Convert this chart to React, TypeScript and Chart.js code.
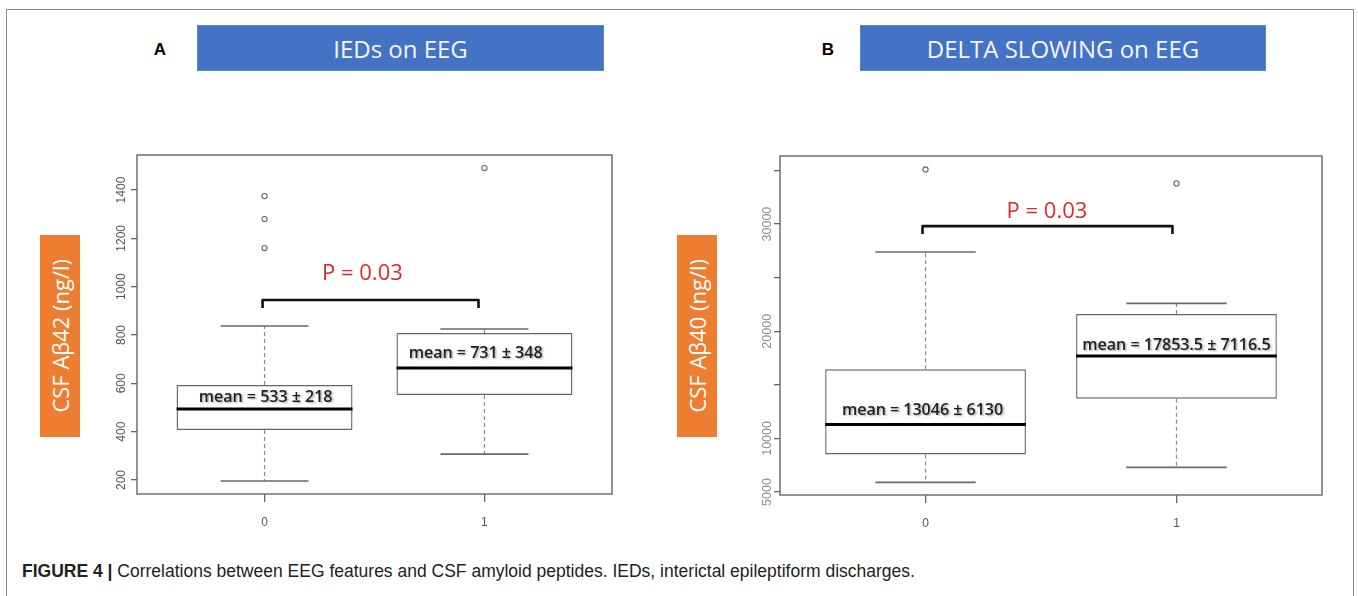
import React, { useEffect, useRef } from "react";
import { Chart, registerables } from "chart.js";

Chart.register(...registerables);

// ---------- Panel A: CSF Aβ42 by IEDs on EEG ----------
const groupsA = [0, 1];
const groupLabelsA = ["0", "1"];
const q1A = [407, 552];
const medianA = [494, 663];
const q3A = [593, 808];
const whiskerLowA = [196, 307];
const whiskerHighA = [837, 825];
const outlierGroupA = [0, 0, 0, 1];
const outlierValueA = [1375, 1280, 1160, 1491];
const meanTextA = ["mean = 533 ± 218", "mean = 731 ± 348"];
const yTicksA = [200, 400, 600, 800, 1000, 1200, 1400];
const yTickLabelsA = ["200", "400", "600", "800", "1000", "1200", "1400"];
const pTextA = "P = 0.03";

// ---------- Panel B: CSF Aβ40 by delta slowing on EEG ----------
const groupsB = [0, 1];
const groupLabelsB = ["0", "1"];
const q1B = [8500, 13700];
const medianB = [11300, 17700];
const q3B = [16450, 21600];
const whiskerLowB = [5900, 7300];
const whiskerHighB = [27400, 22600];
const outlierGroupB = [0, 1];
const outlierValueB = [35100, 33800];
const meanTextB = ["mean = 13046 ± 6130", "mean = 17853.5 ± 7116.5"];
const yTicksB = [5000, 10000, 15000, 20000, 25000, 30000, 35000];
const yTickLabelsB = ["5000", "10000", "", "20000", "", "30000", ""];
const pTextB = "P = 0.03";

type PanelCfg = {
  left: number;
  top: number;
  width: number;
  height: number;
  yWidth: number;
  xHeight: number;
  padTop: number;
  padRight: number;
  yMin: number;
  yMax: number;
  groups: number[];
  groupLabels: string[];
  q1: number[];
  median: number[];
  q3: number[];
  wLow: number[];
  wHigh: number[];
  outGroup: number[];
  outValue: number[];
  meanText: string[];
  meanAt: { x: number; y: number }[];
  yTicks: number[];
  yTickLabels: string[];
  yLabelOffset: number;
  yLabelFont: number;
  yLabelColor: string;
  pText: string;
  pAt: { x: number; y: number };
  bracket: { x0: number; x1: number; yTop: number; yBottom: number };
};

const panelA: PanelCfg = {
  left: 90,
  top: 140,
  width: 540,
  height: 400,
  yWidth: 47,
  xHeight: 46,
  padTop: 15,
  padRight: 18,
  yMin: 142,
  yMax: 1545,
  groups: groupsA,
  groupLabels: groupLabelsA,
  q1: q1A,
  median: medianA,
  q3: q3A,
  wLow: whiskerLowA,
  wHigh: whiskerHighA,
  outGroup: outlierGroupA,
  outValue: outlierValueA,
  meanText: meanTextA,
  meanAt: [
    { x: 0.005, y: 543 },
    { x: 0.96, y: 725 },
  ],
  yTicks: yTicksA,
  yTickLabels: yTickLabelsA,
  yLabelOffset: 15,
  yLabelFont: 12,
  yLabelColor: "#555",
  pText: pTextA,
  pAt: { x: 0.445, y: 1052 },
  bracket: { x0: -0.009, x1: 0.973, yTop: 945, yBottom: 912 },
};

const panelB: PanelCfg = {
  left: 730,
  top: 140,
  width: 610,
  height: 400,
  yWidth: 50,
  xHeight: 45,
  padTop: 16,
  padRight: 18,
  yMin: 4720,
  yMax: 36355,
  groups: groupsB,
  groupLabels: groupLabelsB,
  q1: q1B,
  median: medianB,
  q3: q3B,
  wLow: whiskerLowB,
  wHigh: whiskerHighB,
  outGroup: outlierGroupB,
  outValue: outlierValueB,
  meanText: meanTextB,
  meanAt: [
    { x: -0.012, y: 12617 },
    { x: 1.0, y: 18692 },
  ],
  yTicks: yTicksB,
  yTickLabels: yTickLabelsB,
  yLabelOffset: 12,
  yLabelFont: 12.5,
  yLabelColor: "#8a8a8a",
  pText: pTextB,
  pAt: { x: 0.484, y: 31120 },
  bracket: { x0: -0.012, x1: 0.984, yTop: 29813, yBottom: 29065 },
};

const X_MIN = -0.58;
const X_MAX = 1.58;
const BOX_HALF = 0.4;
const CAP_HALF = 0.2;

function BoxPanel({ cfg }: { cfg: PanelCfg }) {
  const ref = useRef<HTMLCanvasElement | null>(null);
  useEffect(() => {
    if (!ref.current) return;
    const extras = {
      id: "boxExtras",
      afterDatasetsDraw(chart: any) {
        const ctx = chart.ctx;
        const xs = chart.scales.x;
        const ys = chart.scales.y;
        const a = chart.chartArea;
        ctx.save();
        // whiskers, caps, medians
        cfg.groups.forEach((g, i) => {
          const cx = xs.getPixelForValue(g);
          const capL = xs.getPixelForValue(g - CAP_HALF);
          const capR = xs.getPixelForValue(g + CAP_HALF);
          const bL = xs.getPixelForValue(g - BOX_HALF);
          const bR = xs.getPixelForValue(g + BOX_HALF);
          ctx.strokeStyle = "#8a8a8a";
          ctx.lineWidth = 1.2;
          ctx.setLineDash([4, 3]);
          ctx.beginPath();
          ctx.moveTo(cx, ys.getPixelForValue(cfg.q3[i]));
          ctx.lineTo(cx, ys.getPixelForValue(cfg.wHigh[i]));
          ctx.moveTo(cx, ys.getPixelForValue(cfg.q1[i]));
          ctx.lineTo(cx, ys.getPixelForValue(cfg.wLow[i]));
          ctx.stroke();
          ctx.setLineDash([]);
          ctx.strokeStyle = "#6a6a6a";
          ctx.lineWidth = 1.6;
          ctx.beginPath();
          ctx.moveTo(capL, ys.getPixelForValue(cfg.wHigh[i]));
          ctx.lineTo(capR, ys.getPixelForValue(cfg.wHigh[i]));
          ctx.moveTo(capL, ys.getPixelForValue(cfg.wLow[i]));
          ctx.lineTo(capR, ys.getPixelForValue(cfg.wLow[i]));
          ctx.stroke();
          ctx.strokeStyle = "#000";
          ctx.lineWidth = 3;
          ctx.beginPath();
          ctx.moveTo(bL, ys.getPixelForValue(cfg.median[i]));
          ctx.lineTo(bR, ys.getPixelForValue(cfg.median[i]));
          ctx.stroke();
        });
        // plot frame
        ctx.strokeStyle = "#666";
        ctx.lineWidth = 1.4;
        ctx.strokeRect(a.left, a.top, a.right - a.left, a.bottom - a.top);
        // bracket
        const b = cfg.bracket;
        const bx0 = xs.getPixelForValue(b.x0);
        const bx1 = xs.getPixelForValue(b.x1);
        const byT = ys.getPixelForValue(b.yTop);
        const byB = ys.getPixelForValue(b.yBottom);
        ctx.strokeStyle = "#111";
        ctx.lineWidth = 2.6;
        ctx.lineJoin = "round";
        ctx.beginPath();
        ctx.moveTo(bx0, byB);
        ctx.lineTo(bx0, byT);
        ctx.lineTo(bx1, byT);
        ctx.lineTo(bx1, byB);
        ctx.stroke();
        // P text
        ctx.fillStyle = "#DA2A2E";
        ctx.font = '22px "Open Sans", sans-serif';
        ctx.textAlign = "center";
        ctx.textBaseline = "middle";
        ctx.fillText(cfg.pText, xs.getPixelForValue(cfg.pAt.x), ys.getPixelForValue(cfg.pAt.y));
        // mean texts with soft shadow
        ctx.font = '600 16px "Open Sans", sans-serif';
        cfg.meanText.forEach((t, i) => {
          const px = xs.getPixelForValue(cfg.meanAt[i].x);
          const py = ys.getPixelForValue(cfg.meanAt[i].y);
          ctx.save();
          ctx.shadowColor = "rgba(0,0,0,0.35)";
          ctx.shadowBlur = 2;
          ctx.shadowOffsetX = 1.5;
          ctx.shadowOffsetY = 1.5;
          ctx.fillStyle = "#1e1e1e";
          ctx.fillText(t, px, py);
          ctx.restore();
        });
        // rotated y tick labels
        ctx.fillStyle = cfg.yLabelColor;
        ctx.font = `${cfg.yLabelFont}px "Liberation Sans", Arial, sans-serif`;
        cfg.yTicks.forEach((v, i) => {
          const lab = cfg.yTickLabels[i];
          if (!lab) return;
          ctx.save();
          ctx.translate(a.left - cfg.yLabelOffset, ys.getPixelForValue(v));
          ctx.rotate(-Math.PI / 2);
          ctx.textAlign = "center";
          ctx.textBaseline = "middle";
          ctx.fillText(lab, 0, 0);
          ctx.restore();
        });
        ctx.restore();
      },
    };

    const chart = new Chart(ref.current, {
      type: "bar",
      data: {
        datasets: [
          {
            type: "bar",
            data: cfg.groups.map((g, i) => ({ x: g, y: [cfg.q1[i], cfg.q3[i]] })) as any,
            backgroundColor: "#ffffff",
            borderColor: "#666",
            borderWidth: 1.4,
            borderSkipped: false,
            categoryPercentage: 0.8,
            barPercentage: 1,
            order: 2,
          } as any,
          {
            type: "scatter",
            data: cfg.outGroup.map((g, i) => ({ x: g, y: cfg.outValue[i] })),
            pointStyle: "circle",
            pointRadius: 2.6,
            borderColor: "#666",
            backgroundColor: "rgba(0,0,0,0)",
            borderWidth: 1.1,
            order: 1,
          } as any,
        ],
      },
      options: {
        animation: false,
        responsive: false,
        events: [],
        layout: { padding: { top: cfg.padTop, right: cfg.padRight, left: 0, bottom: 0 } },
        plugins: { legend: { display: false }, tooltip: { enabled: false } },
        scales: {
          x: {
            type: "linear",
            min: X_MIN,
            max: X_MAX,
            offset: false,
            bounds: "data",
            afterBuildTicks: (s: any) => {
              s.ticks = cfg.groups.map((g) => ({ value: g }));
            },
            afterFit: (s: any) => {
              s.height = cfg.xHeight;
            },
            ticks: {
              color: "#555",
              font: { size: 12, family: '"Liberation Sans", Arial, sans-serif' },
              padding: 13,
              callback: (v: any) => {
                const idx = cfg.groups.indexOf(Number(v));
                return idx >= 0 ? cfg.groupLabels[idx] : "";
              },
            },
            grid: {
              display: true,
              offset: false,
              drawOnChartArea: false,
              drawTicks: true,
              tickLength: 8,
              color: "#666",
              lineWidth: 1.3,
            },
            border: { display: false },
          },
          y: {
            type: "linear",
            min: cfg.yMin,
            max: cfg.yMax,
            bounds: "data",
            afterBuildTicks: (s: any) => {
              s.ticks = cfg.yTicks.map((v) => ({ value: v }));
            },
            afterFit: (s: any) => {
              s.width = cfg.yWidth;
            },
            ticks: { display: false },
            grid: {
              display: true,
              drawOnChartArea: false,
              drawTicks: true,
              tickLength: 6,
              color: "#666",
              lineWidth: 1.3,
            },
            border: { display: false },
          },
        },
      } as any,
      plugins: [extras],
    });
    return () => chart.destroy();
  }, [cfg]);
  return (
    <canvas
      ref={ref}
      width={cfg.width}
      height={cfg.height}
      style={{
        position: "absolute",
        left: cfg.left,
        top: cfg.top,
        width: cfg.width,
        height: cfg.height,
      }}
    />
  );
}

const headerStyle: React.CSSProperties = {
  position: "absolute",
  top: 25,
  height: 46,
  background: "#4472C4",
  color: "#f4f6fb",
  fontFamily: '"Open Sans", sans-serif',
  fontSize: 24,
  display: "flex",
  alignItems: "center",
  justifyContent: "center",
  border: "1px solid #5b86d0",
  boxSizing: "border-box",
};

const letterStyle: React.CSSProperties = {
  position: "absolute",
  top: 38,
  width: 24,
  height: 24,
  fontFamily: '"Liberation Sans", Arial, sans-serif',
  fontWeight: 700,
  fontSize: 17,
  display: "flex",
  alignItems: "center",
  justifyContent: "center",
  color: "#000",
};

const orangeStyle: React.CSSProperties = {
  position: "absolute",
  top: 235,
  height: 202,
  width: 40,
  background: "#ED7D31",
  color: "#fff",
  fontFamily: '"Open Sans", sans-serif',
  fontSize: 22,
  display: "flex",
  alignItems: "center",
  justifyContent: "center",
};

const rotText: React.CSSProperties = {
  writingMode: "vertical-rl",
  transform: "rotate(180deg)",
  whiteSpace: "nowrap",
};

export default function App() {
  return (
    <div
      style={{
        position: "absolute",
        left: 0,
        top: 0,
        width: 1358,
        height: 596,
        overflow: "hidden",
        background: "#fff",
      }}
    >
      <div
        style={{
          position: "absolute",
          left: 6,
          top: 9,
          width: 1348,
          height: 620,
          border: "1.5px solid #8c8c8c",
          boxSizing: "border-box",
        }}
      />
      <div style={{ ...letterStyle, left: 148 }}>A</div>
      <div style={{ ...headerStyle, left: 197, width: 407 }}>IEDs on EEG</div>
      <div style={{ ...letterStyle, left: 816 }}>B</div>
      <div style={{ ...headerStyle, left: 860, width: 406 }}>DELTA SLOWING on EEG</div>
      <div style={{ ...orangeStyle, left: 40 }}>
        <span style={rotText}>CSF Aβ42 (ng/l)</span>
      </div>
      <div style={{ ...orangeStyle, left: 677 }}>
        <span style={rotText}>CSF Aβ40 (ng/l)</span>
      </div>
      <BoxPanel cfg={panelA} />
      <BoxPanel cfg={panelB} />
      <div
        style={{
          position: "absolute",
          left: 22,
          top: 561,
          fontFamily: '"Liberation Sans", Arial, sans-serif',
          fontSize: 17.5,
          color: "#222",
          whiteSpace: "nowrap",
        }}
      >
        <b>FIGURE 4 |</b> Correlations between EEG features and CSF amyloid peptides. IEDs, interictal epileptiform
        discharges.
      </div>
    </div>
  );
}
